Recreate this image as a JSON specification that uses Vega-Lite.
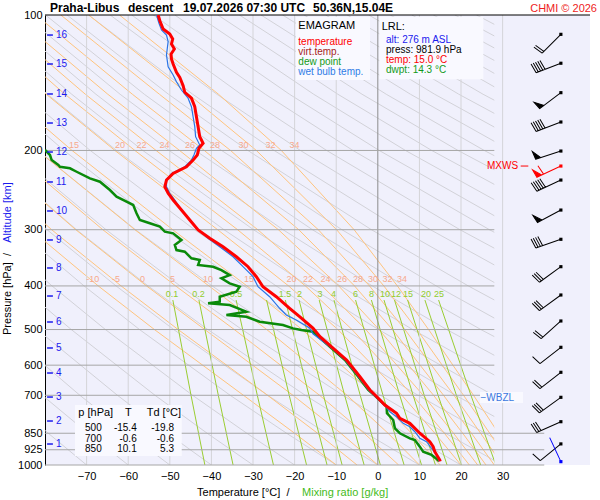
{
  "$schema": "https://vega.github.io/schema/vega-lite/v6.json",
  "width": 545,
  "height": 450,
  "autosize": {"type": "none"},
  "padding": {"left": 45, "top": 15, "right": 10, "bottom": 35},
  "background": "#ffffff",
  "config": {
    "font": "Liberation Sans",
    "text": {"font": "Liberation Sans"},
    "axis": {"labelFont": "Liberation Sans"},
    "view": {"fill": "#f0f0fc", "stroke": null}
  },
  "datasets": {
    "dry": [
      {"id": -70, "p": 1000, "t": -70}, {"id": -70, "p": 850, "t": -79.22}, {"id": -70, "p": 700, "t": -89.7},
      {"id": -60, "p": 1000, "t": -60}, {"id": -60, "p": 850, "t": -69.67}, {"id": -60, "p": 700, "t": -80.65},
      {"id": -50, "p": 1000, "t": -50}, {"id": -50, "p": 850, "t": -60.12}, {"id": -50, "p": 700, "t": -71.62}, {"id": -50, "p": 500, "t": -90.09},
      {"id": -40, "p": 1000, "t": -40}, {"id": -40, "p": 850, "t": -50.58}, {"id": -40, "p": 700, "t": -62.59}, {"id": -40, "p": 500, "t": -81.89},
      {"id": -30, "p": 1000, "t": -30}, {"id": -30, "p": 850, "t": -41.03}, {"id": -30, "p": 700, "t": -53.56}, {"id": -30, "p": 500, "t": -73.69}, {"id": -30, "p": 400, "t": -86.01},
      {"id": -20, "p": 1000, "t": -20}, {"id": -20, "p": 850, "t": -31.49}, {"id": -20, "p": 700, "t": -44.53}, {"id": -20, "p": 500, "t": -65.48}, {"id": -20, "p": 400, "t": -78.31}, {"id": -20, "p": 300, "t": -93.69},
      {"id": -10, "p": 1000, "t": -10}, {"id": -10, "p": 850, "t": -21.94}, {"id": -10, "p": 700, "t": -35.5}, {"id": -10, "p": 500, "t": -57.28}, {"id": -10, "p": 400, "t": -70.61}, {"id": -10, "p": 300, "t": -86.6},
      {"id": 0, "p": 1000, "t": 0}, {"id": 0, "p": 850, "t": -12.39}, {"id": 0, "p": 700, "t": -26.47}, {"id": 0, "p": 500, "t": -49.07}, {"id": 0, "p": 400, "t": -62.92}, {"id": 0, "p": 300, "t": -79.51}, {"id": 0, "p": 200, "t": -100.69},
      {"id": 10, "p": 1000, "t": 10}, {"id": 10, "p": 850, "t": -2.85}, {"id": 10, "p": 700, "t": -17.44}, {"id": 10, "p": 500, "t": -40.87}, {"id": 10, "p": 400, "t": -55.22}, {"id": 10, "p": 300, "t": -72.42}, {"id": 10, "p": 200, "t": -94.37},
      {"id": 20, "p": 1000, "t": 20}, {"id": 20, "p": 850, "t": 6.7}, {"id": 20, "p": 700, "t": -8.4}, {"id": 20, "p": 500, "t": -32.67}, {"id": 20, "p": 400, "t": -47.52}, {"id": 20, "p": 300, "t": -65.33}, {"id": 20, "p": 200, "t": -88.06},
      {"id": 30, "p": 1000, "t": 30}, {"id": 30, "p": 850, "t": 16.24}, {"id": 30, "p": 700, "t": 0.63}, {"id": 30, "p": 500, "t": -24.46}, {"id": 30, "p": 400, "t": -39.83}, {"id": 30, "p": 300, "t": -58.24}, {"id": 30, "p": 200, "t": -81.75},
      {"id": 40, "p": 1000, "t": 40}, {"id": 40, "p": 850, "t": 25.79}, {"id": 40, "p": 700, "t": 9.66}, {"id": 40, "p": 500, "t": -16.26}, {"id": 40, "p": 400, "t": -32.13}, {"id": 40, "p": 300, "t": -51.15}, {"id": 40, "p": 200, "t": -75.43}, {"id": 40, "p": 150, "t": -91.03},
      {"id": 50, "p": 850, "t": 35.34}, {"id": 50, "p": 700, "t": 18.69}, {"id": 50, "p": 500, "t": -8.06}, {"id": 50, "p": 400, "t": -24.43}, {"id": 50, "p": 300, "t": -44.06}, {"id": 50, "p": 200, "t": -69.12}, {"id": 50, "p": 150, "t": -85.21},
      {"id": 60, "p": 850, "t": 44.88}, {"id": 60, "p": 700, "t": 27.72}, {"id": 60, "p": 500, "t": 0.15}, {"id": 60, "p": 400, "t": -16.74}, {"id": 60, "p": 300, "t": -36.97}, {"id": 60, "p": 200, "t": -62.81}, {"id": 60, "p": 150, "t": -79.4}, {"id": 60, "p": 100, "t": -100.59},
      {"id": 70, "p": 700, "t": 36.75}, {"id": 70, "p": 500, "t": 8.35}, {"id": 70, "p": 400, "t": -9.04}, {"id": 70, "p": 300, "t": -29.88}, {"id": 70, "p": 200, "t": -56.49}, {"id": 70, "p": 150, "t": -73.58}, {"id": 70, "p": 100, "t": -95.41},
      {"id": 80, "p": 700, "t": 45.78}, {"id": 80, "p": 500, "t": 16.55}, {"id": 80, "p": 400, "t": -1.34}, {"id": 80, "p": 300, "t": -22.79}, {"id": 80, "p": 200, "t": -50.18}, {"id": 80, "p": 150, "t": -67.76}, {"id": 80, "p": 100, "t": -90.23},
      {"id": 90, "p": 700, "t": 54.81}, {"id": 90, "p": 500, "t": 24.76}, {"id": 90, "p": 400, "t": 6.35}, {"id": 90, "p": 300, "t": -15.71}, {"id": 90, "p": 200, "t": -43.86}, {"id": 90, "p": 150, "t": -61.95}, {"id": 90, "p": 100, "t": -85.06},
      {"id": 100, "p": 500, "t": 32.96}, {"id": 100, "p": 400, "t": 14.05}, {"id": 100, "p": 300, "t": -8.62}, {"id": 100, "p": 200, "t": -37.55}, {"id": 100, "p": 150, "t": -56.13}, {"id": 100, "p": 100, "t": -79.88},
      {"id": 110, "p": 500, "t": 41.16}, {"id": 110, "p": 400, "t": 21.75}, {"id": 110, "p": 300, "t": -1.53}, {"id": 110, "p": 200, "t": -31.24}, {"id": 110, "p": 150, "t": -50.32}, {"id": 110, "p": 100, "t": -74.7},
      {"id": 120, "p": 500, "t": 49.37}, {"id": 120, "p": 400, "t": 29.45}, {"id": 120, "p": 300, "t": 5.56}, {"id": 120, "p": 200, "t": -24.92}, {"id": 120, "p": 150, "t": -44.5}, {"id": 120, "p": 100, "t": -69.52},
      {"id": 130, "p": 400, "t": 37.14}, {"id": 130, "p": 300, "t": 12.65}, {"id": 130, "p": 200, "t": -18.61}, {"id": 130, "p": 150, "t": -38.69}, {"id": 130, "p": 100, "t": -64.34},
      {"id": 140, "p": 400, "t": 44.84}, {"id": 140, "p": 300, "t": 19.74}, {"id": 140, "p": 200, "t": -12.3}, {"id": 140, "p": 150, "t": -32.87}, {"id": 140, "p": 100, "t": -59.16},
      {"id": 150, "p": 400, "t": 52.54}, {"id": 150, "p": 300, "t": 26.83}, {"id": 150, "p": 200, "t": -5.98}, {"id": 150, "p": 150, "t": -27.05}, {"id": 150, "p": 100, "t": -53.98},
      {"id": 160, "p": 300, "t": 33.92}, {"id": 160, "p": 200, "t": 0.33}, {"id": 160, "p": 150, "t": -21.24}, {"id": 160, "p": 100, "t": -48.8},
      {"id": 170, "p": 300, "t": 41.01}, {"id": 170, "p": 200, "t": 6.64}, {"id": 170, "p": 150, "t": -15.42}, {"id": 170, "p": 100, "t": -43.62},
      {"id": 180, "p": 300, "t": 48.1}, {"id": 180, "p": 200, "t": 12.96}, {"id": 180, "p": 150, "t": -9.61}, {"id": 180, "p": 100, "t": -38.44},
      {"id": 190, "p": 300, "t": 55.19}, {"id": 190, "p": 200, "t": 19.27}, {"id": 190, "p": 150, "t": -3.79}, {"id": 190, "p": 100, "t": -33.26},
      {"id": 200, "p": 300, "t": 62.27}, {"id": 200, "p": 200, "t": 25.58}, {"id": 200, "p": 150, "t": 2.02}, {"id": 200, "p": 100, "t": -28.08},
      {"id": 210, "p": 200, "t": 31.9}, {"id": 210, "p": 150, "t": 7.84}, {"id": 210, "p": 100, "t": -22.9},
      {"id": 220, "p": 200, "t": 38.21}, {"id": 220, "p": 150, "t": 13.66}, {"id": 220, "p": 100, "t": -17.72},
      {"id": 230, "p": 200, "t": 44.53}, {"id": 230, "p": 150, "t": 19.47}, {"id": 230, "p": 100, "t": -12.54},
      {"id": 240, "p": 200, "t": 50.84}, {"id": 240, "p": 150, "t": 25.29}, {"id": 240, "p": 100, "t": -7.36},
      {"id": 250, "p": 200, "t": 57.15}, {"id": 250, "p": 150, "t": 31.1}, {"id": 250, "p": 100, "t": -2.18},
      {"id": 260, "p": 150, "t": 36.92}, {"id": 260, "p": 100, "t": 3.0},
      {"id": 270, "p": 150, "t": 42.73}, {"id": 270, "p": 100, "t": 8.17},
      {"id": 280, "p": 150, "t": 48.55}, {"id": 280, "p": 100, "t": 13.35},
      {"id": 290, "p": 150, "t": 54.37}, {"id": 290, "p": 100, "t": 18.53},
      {"id": 300, "p": 150, "t": 60.18}, {"id": 300, "p": 100, "t": 23.71}
    ],
    "moist": [
      {"id": -10, "p": 1000, "t": -10}, {"id": -10, "p": 850, "t": -20.0}, {"id": -10, "p": 700, "t": -32.3}, {"id": -10, "p": 500, "t": -53.7}, {"id": -10, "p": 400, "t": -67.2}, {"id": -10, "p": 300, "t": -83.4},
      {"id": -5, "p": 1000, "t": -5}, {"id": -5, "p": 850, "t": -14.5}, {"id": -5, "p": 700, "t": -26.5}, {"id": -5, "p": 500, "t": -48.0}, {"id": -5, "p": 400, "t": -61.7}, {"id": -5, "p": 300, "t": -78.4}, {"id": -5, "p": 200, "t": -99.7},
      {"id": 0, "p": 1000, "t": 0}, {"id": 0, "p": 850, "t": -8.9}, {"id": 0, "p": 700, "t": -20.4}, {"id": 0, "p": 500, "t": -41.6}, {"id": 0, "p": 400, "t": -55.6}, {"id": 0, "p": 300, "t": -72.6}, {"id": 0, "p": 200, "t": -94.6},
      {"id": 5, "p": 1000, "t": 5}, {"id": 5, "p": 850, "t": -3.3}, {"id": 5, "p": 700, "t": -14.0}, {"id": 5, "p": 500, "t": -34.5}, {"id": 5, "p": 400, "t": -48.6}, {"id": 5, "p": 300, "t": -66.1}, {"id": 5, "p": 200, "t": -88.7},
      {"id": 10, "p": 1000, "t": 10}, {"id": 10, "p": 850, "t": 2.45}, {"id": 10, "p": 700, "t": -7.4}, {"id": 10, "p": 500, "t": -26.7}, {"id": 10, "p": 400, "t": -40.6}, {"id": 10, "p": 300, "t": -58.4}, {"id": 10, "p": 200, "t": -81.8},
      {"id": 15, "p": 1000, "t": 15}, {"id": 15, "p": 850, "t": 8.1}, {"id": 15, "p": 700, "t": -0.75}, {"id": 15, "p": 500, "t": -18.2}, {"id": 15, "p": 400, "t": -31.45}, {"id": 15, "p": 300, "t": -49.3}, {"id": 15, "p": 200, "t": -73.5}, {"id": 15, "p": 150, "t": -89.2},
      {"id": 20, "p": 1000, "t": 20}, {"id": 20, "p": 850, "t": 13.7}, {"id": 20, "p": 700, "t": 5.8}, {"id": 20, "p": 500, "t": -9.6}, {"id": 20, "p": 400, "t": -21.45}, {"id": 20, "p": 300, "t": -38.5}, {"id": 20, "p": 200, "t": -63.2}, {"id": 20, "p": 150, "t": -79.7}, {"id": 20, "p": 100, "t": -100.8},
      {"id": 22, "p": 1000, "t": 22}, {"id": 22, "p": 850, "t": 16.0}, {"id": 22, "p": 700, "t": 8.35}, {"id": 22, "p": 500, "t": -6.2}, {"id": 22, "p": 400, "t": -17.4}, {"id": 22, "p": 300, "t": -33.7}, {"id": 22, "p": 200, "t": -58.4}, {"id": 22, "p": 150, "t": -75.2}, {"id": 22, "p": 100, "t": -96.9},
      {"id": 24, "p": 1000, "t": 24}, {"id": 24, "p": 850, "t": 18.2}, {"id": 24, "p": 700, "t": 10.9}, {"id": 24, "p": 500, "t": -2.9}, {"id": 24, "p": 400, "t": -13.4}, {"id": 24, "p": 300, "t": -28.85}, {"id": 24, "p": 200, "t": -53.3}, {"id": 24, "p": 150, "t": -70.3}, {"id": 24, "p": 100, "t": -92.5},
      {"id": 26, "p": 1000, "t": 26}, {"id": 26, "p": 850, "t": 20.4}, {"id": 26, "p": 700, "t": 13.4}, {"id": 26, "p": 500, "t": 0.3}, {"id": 26, "p": 400, "t": -9.4}, {"id": 26, "p": 300, "t": -23.9}, {"id": 26, "p": 200, "t": -47.65}, {"id": 26, "p": 150, "t": -64.9}, {"id": 26, "p": 100, "t": -87.6},
      {"id": 28, "p": 1000, "t": 28}, {"id": 28, "p": 850, "t": 22.5}, {"id": 28, "p": 700, "t": 15.8}, {"id": 28, "p": 500, "t": 3.5}, {"id": 28, "p": 400, "t": -5.6}, {"id": 28, "p": 300, "t": -19.0}, {"id": 28, "p": 200, "t": -41.7}, {"id": 28, "p": 150, "t": -59.0}, {"id": 28, "p": 100, "t": -82.2},
      {"id": 30, "p": 1000, "t": 30}, {"id": 30, "p": 850, "t": 24.7}, {"id": 30, "p": 700, "t": 18.3}, {"id": 30, "p": 500, "t": 6.5}, {"id": 30, "p": 400, "t": -2.0}, {"id": 30, "p": 300, "t": -14.3}, {"id": 30, "p": 200, "t": -35.4}, {"id": 30, "p": 150, "t": -52.5}, {"id": 30, "p": 100, "t": -76.2},
      {"id": 32, "p": 1000, "t": 32}, {"id": 32, "p": 850, "t": 26.9}, {"id": 32, "p": 700, "t": 20.6}, {"id": 32, "p": 500, "t": 9.4}, {"id": 32, "p": 400, "t": 1.45}, {"id": 32, "p": 300, "t": -9.9}, {"id": 32, "p": 200, "t": -29.2}, {"id": 32, "p": 150, "t": -45.5}, {"id": 32, "p": 100, "t": -69.5},
      {"id": 34, "p": 1000, "t": 34}, {"id": 34, "p": 850, "t": 29.0}, {"id": 34, "p": 700, "t": 23.0}, {"id": 34, "p": 500, "t": 12.2}, {"id": 34, "p": 400, "t": 4.7}, {"id": 34, "p": 300, "t": -5.7}, {"id": 34, "p": 200, "t": -23.2}, {"id": 34, "p": 150, "t": -38.3}, {"id": 34, "p": 100, "t": -62.1}
    ],
    "mix": [
      {"id": 0.1, "p": 1000, "t": -41.57}, {"id": 0.1, "p": 700, "t": -44.9}, {"id": 0.1, "p": 430, "t": -49.27},
      {"id": 0.2, "p": 1000, "t": -34.79}, {"id": 0.2, "p": 700, "t": -38.34}, {"id": 0.2, "p": 430, "t": -43.0},
      {"id": 0.5, "p": 1000, "t": -25.09}, {"id": 0.5, "p": 700, "t": -28.97}, {"id": 0.5, "p": 430, "t": -34.06},
      {"id": 1, "p": 1000, "t": -17.13}, {"id": 1, "p": 700, "t": -21.3}, {"id": 1, "p": 430, "t": -26.75},
      {"id": 1.5, "p": 1000, "t": -12.2}, {"id": 1.5, "p": 700, "t": -16.56}, {"id": 1.5, "p": 430, "t": -22.24},
      {"id": 2, "p": 1000, "t": -8.58}, {"id": 2, "p": 700, "t": -13.07}, {"id": 2, "p": 430, "t": -18.93},
      {"id": 3, "p": 1000, "t": -3.29}, {"id": 3, "p": 700, "t": -7.98}, {"id": 3, "p": 430, "t": -14.09},
      {"id": 4, "p": 1000, "t": 0.61}, {"id": 4, "p": 700, "t": -4.23}, {"id": 4, "p": 430, "t": -10.54},
      {"id": 6, "p": 1000, "t": 6.32}, {"id": 6, "p": 700, "t": 1.25}, {"id": 6, "p": 430, "t": -5.35},
      {"id": 8, "p": 1000, "t": 10.51}, {"id": 8, "p": 700, "t": 5.27}, {"id": 8, "p": 430, "t": -1.54},
      {"id": 10, "p": 1000, "t": 13.85}, {"id": 10, "p": 700, "t": 8.48}, {"id": 10, "p": 430, "t": 1.49},
      {"id": 12, "p": 1000, "t": 16.64}, {"id": 12, "p": 700, "t": 11.15}, {"id": 12, "p": 430, "t": 4.01},
      {"id": 15, "p": 1000, "t": 20.12}, {"id": 15, "p": 700, "t": 14.49}, {"id": 15, "p": 430, "t": 7.16},
      {"id": 20, "p": 1000, "t": 24.72}, {"id": 20, "p": 700, "t": 18.89}, {"id": 20, "p": 430, "t": 11.32},
      {"id": 25, "p": 1000, "t": 28.37}, {"id": 25, "p": 700, "t": 22.38}, {"id": 25, "p": 430, "t": 14.61}
    ],
    "vg": [{"t": -70}, {"t": -60}, {"t": -50}, {"t": -40}, {"t": -30}, {"t": -20}, {"t": -10}, {"t": 10}, {"t": 20}, {"t": 30}],
    "hl": [
      {"p": 200, "t": -80, "t2": 28}, {"p": 300, "t": -80, "t2": 28}, {"p": 400, "t": -80, "t2": 28},
      {"p": 500, "t": -80, "t2": 28}, {"p": 600, "t": -80, "t2": 28}, {"p": 700, "t": -80, "t2": 28},
      {"p": 850, "t": -80, "t2": 40}, {"p": 925, "t": -80, "t2": 40}, {"p": 1000, "t": -80, "t2": 40}
    ],
    "boxes": [
      {"t": -19.67, "t2": -1.88, "p": 101.0, "p2": 139.5},
      {"t": 0.36, "t2": 25.36, "p": 100.9, "p2": 138.9},
      {"t": -72.79, "t2": -47.14, "p": 735.6, "p2": 955.0},
      {"t": 24.56, "t2": 34.9, "p": 688.1, "p2": 728.1}
    ],
    "plab": [
      {"s": "-10", "t": -68.53, "p": 386.1}, {"s": "-5", "t": -62.93, "p": 386.1}, {"s": "0", "t": -56.56, "p": 386.1},
      {"s": "5", "t": -49.35, "p": 386.1}, {"s": "10", "t": -40.82, "p": 386.1}, {"s": "15", "t": -30.97, "p": 386.1},
      {"s": "20", "t": -20.75, "p": 386.1}, {"s": "22", "t": -16.78, "p": 386.1}, {"s": "24", "t": -12.58, "p": 386.1},
      {"s": "26", "t": -8.61, "p": 386.1}, {"s": "28", "t": -4.77, "p": 386.1}, {"s": "30", "t": -1.16, "p": 386.1},
      {"s": "32", "t": 2.33, "p": 386.1}, {"s": "34", "t": 5.81, "p": 386.1},
      {"s": "15", "t": -73.03, "p": 194.5}, {"s": "20", "t": -61.97, "p": 194.5}, {"s": "22", "t": -56.8, "p": 194.5},
      {"s": "24", "t": -51.28, "p": 194.5}, {"s": "26", "t": -45.15, "p": 194.5}, {"s": "28", "t": -39.14, "p": 194.5},
      {"s": "30", "t": -32.29, "p": 194.5}, {"s": "32", "t": -25.8, "p": 194.5}, {"s": "34", "t": -20.03, "p": 194.5}
    ],
    "mlab": [
      {"s": "0.1", "t": -49.47, "p": 417.9}, {"s": "0.2", "t": -43.1, "p": 417.9}, {"s": "0.5", "t": -34.09, "p": 417.9},
      {"s": "1.5", "t": -22.31, "p": 417.9}, {"s": "2", "t": -18.83, "p": 417.9}, {"s": "3", "t": -13.9, "p": 417.9},
      {"s": "4", "t": -10.65, "p": 417.9}, {"s": "6", "t": -5.37, "p": 417.9}, {"s": "8", "t": -1.52, "p": 417.9},
      {"s": "10", "t": 1.72, "p": 417.9}, {"s": "12", "t": 4.37, "p": 417.9}, {"s": "15", "t": 7.25, "p": 417.9},
      {"s": "20", "t": 11.58, "p": 417.9}, {"s": "25", "t": 14.7, "p": 417.9}
    ],
    "tt": [
      {"p": 100, "t": -52.8}, {"p": 103.0, "t": -52.4}, {"p": 107.4, "t": -51.6}, {"p": 110.2, "t": -50.0},
      {"p": 113.1, "t": -49.3}, {"p": 116.0, "t": -49.6}, {"p": 119.0, "t": -48.9}, {"p": 122.1, "t": -49.7},
      {"p": 125.2, "t": -49.6}, {"p": 128.5, "t": -49.2}, {"p": 134.1, "t": -48.4}, {"p": 137.6, "t": -47.6},
      {"p": 143.6, "t": -46.8}, {"p": 148.5, "t": -46.4}, {"p": 153.1, "t": -44.8}, {"p": 159.9, "t": -44.0},
      {"p": 168.3, "t": -43.6}, {"p": 177.1, "t": -43.2}, {"p": 186.4, "t": -42.8}, {"p": 192.8, "t": -42.0},
      {"p": 197.8, "t": -43.0}, {"p": 204.7, "t": -43.4}, {"p": 210.1, "t": -44.4}, {"p": 217.4, "t": -46.0},
      {"p": 224.9, "t": -49.2}, {"p": 232.7, "t": -50.8}, {"p": 240.8, "t": -51.2}, {"p": 249.0, "t": -50.4},
      {"p": 257.7, "t": -49.2}, {"p": 271.2, "t": -47.2}, {"p": 285.4, "t": -45.2}, {"p": 300.4, "t": -43.2},
      {"p": 313.5, "t": -40.4}, {"p": 327.3, "t": -37.2}, {"p": 344.5, "t": -34.0}, {"p": 362.5, "t": -31.2},
      {"p": 381.5, "t": -29.2}, {"p": 401.6, "t": -27.6}, {"p": 422.7, "t": -24.4}, {"p": 448.5, "t": -21.2},
      {"p": 468.2, "t": -18.8}, {"p": 496.1, "t": -15.6}, {"p": 518.6, "t": -13.9}, {"p": 550.4, "t": -10.7},
      {"p": 584.5, "t": -7.5}, {"p": 636.7, "t": -4.3}, {"p": 681.3, "t": -1.9}, {"p": 700, "t": -0.6},
      {"p": 735.6, "t": 1.7}, {"p": 767.6, "t": 4.5}, {"p": 787.5, "t": 5.3}, {"p": 808, "t": 7.7},
      {"p": 850, "t": 10.1}, {"p": 887.7, "t": 12.5}, {"p": 910.5, "t": 13.3}, {"p": 934, "t": 13.7},
      {"p": 974.8, "t": 14.9}, {"p": 981.9, "t": 15.0}
    ],
    "tw": [
      {"p": 100, "t": -53.2}, {"p": 104.3, "t": -52.6}, {"p": 108.0, "t": -52.0}, {"p": 110.8, "t": -50.8},
      {"p": 114.6, "t": -50.4}, {"p": 122.7, "t": -50.8}, {"p": 130.3, "t": -50.4}, {"p": 135.9, "t": -49.2},
      {"p": 140.7, "t": -48.4}, {"p": 146.8, "t": -47.2}, {"p": 153.1, "t": -45.6}, {"p": 159.9, "t": -44.8},
      {"p": 168.3, "t": -44.4}, {"p": 177.1, "t": -44.0}, {"p": 186.4, "t": -43.8}, {"p": 194.5, "t": -42.8},
      {"p": 197.8, "t": -43.6}, {"p": 204.7, "t": -44.2}, {"p": 210.1, "t": -44.8}, {"p": 217.4, "t": -46.4},
      {"p": 224.9, "t": -49.6}, {"p": 232.7, "t": -50.8}, {"p": 240.8, "t": -50.8}, {"p": 249.0, "t": -50.0},
      {"p": 257.7, "t": -48.8}, {"p": 271.2, "t": -47.2}, {"p": 285.4, "t": -45.2}, {"p": 300.4, "t": -43.2},
      {"p": 313.5, "t": -40.8}, {"p": 327.3, "t": -38.0}, {"p": 344.5, "t": -34.8}, {"p": 362.5, "t": -32.4},
      {"p": 381.5, "t": -30.0}, {"p": 401.6, "t": -28.8}, {"p": 422.7, "t": -26.0}, {"p": 448.5, "t": -23.6},
      {"p": 464.2, "t": -22.0}, {"p": 476.1, "t": -19.6}, {"p": 496.1, "t": -16.4}, {"p": 510.9, "t": -15.6},
      {"p": 550.4, "t": -11.0}, {"p": 584.5, "t": -7.8}, {"p": 636.7, "t": -4.6}, {"p": 681.3, "t": -2.2},
      {"p": 700, "t": -0.9}, {"p": 735.6, "t": 1.6}, {"p": 761.4, "t": 2.9}, {"p": 781.1, "t": 4.5},
      {"p": 808.0, "t": 6.1}, {"p": 822.2, "t": 7.7}, {"p": 843.5, "t": 8.9}, {"p": 872.4, "t": 10.1},
      {"p": 887.7, "t": 11.7}, {"p": 917.9, "t": 12.9}, {"p": 949.9, "t": 14.1}, {"p": 974.8, "t": 14.7},
      {"p": 981.9, "t": 14.6}
    ],
    "td": [
      {"p": 199.5, "t": -80.0}, {"p": 204.7, "t": -78.8}, {"p": 210.1, "t": -78.4}, {"p": 215.4, "t": -76.8},
      {"p": 217.4, "t": -76.4}, {"p": 219.1, "t": -74.0}, {"p": 223.0, "t": -72.4}, {"p": 230.7, "t": -69.2},
      {"p": 234.7, "t": -66.8}, {"p": 244.9, "t": -64.4}, {"p": 253.4, "t": -62.8}, {"p": 260.0, "t": -60.4},
      {"p": 264.4, "t": -58.8}, {"p": 275.9, "t": -58.0}, {"p": 285.4, "t": -57.2}, {"p": 290.3, "t": -54.8},
      {"p": 295.4, "t": -52.4}, {"p": 303.1, "t": -51.2}, {"p": 305.6, "t": -49.2}, {"p": 316.2, "t": -47.2},
      {"p": 324.4, "t": -48.8}, {"p": 332.9, "t": -48.4}, {"p": 335.7, "t": -46.4}, {"p": 347.3, "t": -44.8},
      {"p": 350.4, "t": -42.8}, {"p": 359.4, "t": -43.2}, {"p": 362.6, "t": -39.6}, {"p": 368.8, "t": -37.6},
      {"p": 378.4, "t": -35.6}, {"p": 384.8, "t": -37.6}, {"p": 394.8, "t": -35.6}, {"p": 401.7, "t": -33.2},
      {"p": 412.1, "t": -34.0}, {"p": 422.7, "t": -38.0}, {"p": 433.6, "t": -38.0}, {"p": 437.2, "t": -40.8},
      {"p": 441.0, "t": -35.6}, {"p": 456.4, "t": -31.6}, {"p": 464.2, "t": -36.4}, {"p": 468.3, "t": -31.6},
      {"p": 480.4, "t": -28.4}, {"p": 488.6, "t": -22.8}, {"p": 497.0, "t": -20.4}, {"p": 501.2, "t": -18.4},
      {"p": 505.6, "t": -15.6}, {"p": 518.6, "t": -14.3}, {"p": 550.4, "t": -11.1}, {"p": 584.5, "t": -7.9},
      {"p": 636.7, "t": -4.7}, {"p": 681.3, "t": -2.3}, {"p": 700, "t": -0.8}, {"p": 742.0, "t": 2.1},
      {"p": 767.6, "t": 2.2}, {"p": 794.3, "t": 3.7}, {"p": 829.0, "t": 4.1}, {"p": 850, "t": 5.3},
      {"p": 872.4, "t": 7.7}, {"p": 880.0, "t": 8.9}, {"p": 910.5, "t": 10.1}, {"p": 934.1, "t": 10.9},
      {"p": 949.9, "t": 12.9}, {"p": 974.8, "t": 14.5}, {"p": 981.9, "t": 14.3}
    ],
    "alt": [
      {"h": "1", "p": 898.2}, {"h": "2", "p": 798.5}, {"h": "3", "p": 706.3}, {"h": "4", "p": 624.6},
      {"h": "5", "p": 549.5}, {"h": "6", "p": 481.1}, {"h": "7", "p": 421.2}, {"h": "8", "p": 364.9},
      {"h": "9", "p": 316.2}, {"h": "10", "p": 272.6}, {"h": "11", "p": 235.0}, {"h": "12", "p": 201.6},
      {"h": "13", "p": 173.8}, {"h": "14", "p": 149.8}, {"h": "15", "p": 128.5}, {"h": "16", "p": 110.8}
    ],
    "wind": [
      {"p": 110.4, "dir": 225, "n": "2", "k": "w"}, {"p": 128.0, "dir": 249, "n": "5", "k": "w"},
      {"p": 148.8, "dir": 233, "n": "P", "k": "w"}, {"p": 172.9, "dir": 249, "n": "5", "k": "w"},
      {"p": 200.6, "dir": 252, "n": "P", "k": "w"}, {"p": 216.6, "dir": 245, "n": "P1", "k": "mx"},
      {"p": 232.7, "dir": 245, "n": "5", "k": "w"}, {"p": 271.3, "dir": 242, "n": "P", "k": "w"},
      {"p": 315.1, "dir": 251, "n": "4", "k": "w"}, {"p": 362.5, "dir": 234, "n": "3", "k": "w"},
      {"p": 419.0, "dir": 234, "n": "3", "k": "w"}, {"p": 478.6, "dir": 228, "n": "2", "k": "w"},
      {"p": 547.6, "dir": 232, "n": "1", "k": "w"}, {"p": 622.3, "dir": 232, "n": "2", "k": "w"},
      {"p": 707.3, "dir": 234, "n": "3", "k": "w"}, {"p": 801.3, "dir": 246, "n": "3", "k": "w"},
      {"p": 897.7, "dir": 231, "n": "1", "k": "w"}, {"p": 983.0, "dir": 335, "n": "0", "k": "sfc"}
    ],
    "t10": [
      {"s": "temperature", "t": -19.11, "p": 114.8, "r": "temp"},
      {"s": "virt.temp.", "t": -19.11, "p": 120.6, "r": "virt"},
      {"s": "dew point", "t": -19.11, "p": 127.0, "r": "dew"},
      {"s": "wet bulb temp.", "t": -19.11, "p": 133.7, "r": "wet"},
      {"s": "alt: 276 m ASL", "t": 1.97, "p": 113.6, "r": "alt"},
      {"s": "press: 981.9 hPa", "t": 1.97, "p": 119.6, "r": "k"},
      {"s": "temp: 15.0 °C", "t": 1.97, "p": 125.9, "r": "temp"},
      {"s": "dwpt: 14.3 °C", "t": 1.97, "p": 132.5, "r": "dew"},
      {"s": "MXWS", "t": 26.24, "p": 216.6, "r": "temp"},
      {"s": "−WBZL", "t": 24.68, "p": 710.6, "r": "wbzl"}
    ],
    "t11": [
      {"s": "EMAGRAM", "t": -19.11, "p": 105.8, "r": "k"},
      {"s": "LRL:", "t": 0.93, "p": 106.5, "r": "k"},
      {"s": "p [hPa]", "t": -72.0, "p": 767.6, "r": "k"},
      {"s": "T", "t": -60.77, "p": 767.6, "r": "k"},
      {"s": "Td [°C]", "t": -55.56, "p": 767.6, "r": "k"},
      {"s": "Temperature [°C]\u00a0 /", "t": -43.46, "p": 1153.9, "r": "k"},
      {"s": "Mixing ratio [g/kg]", "t": -18.22, "p": 1153.9, "r": "mixt"}
    ],
    "tab": [
      {"s": "500", "t": -66.37, "p": 829.0}, {"s": "-15.4", "t": -57.96, "p": 829.0}, {"s": "-19.8", "t": -48.99, "p": 829.0},
      {"s": "700", "t": -66.37, "p": 873.8}, {"s": "-0.6", "t": -57.96, "p": 873.8}, {"s": "-0.6", "t": -48.99, "p": 873.8},
      {"s": "850", "t": -66.37, "p": 920.7}, {"s": "10.1", "t": -57.96, "p": 920.7}, {"s": "5.3", "t": -48.99, "p": 920.7}
    ],
    "head": [
      {"s": "Praha-Libus", "t": -78.8, "p": 98.3},
      {"s": "descent", "t": -60.05, "p": 98.3},
      {"s": "19.07.2026 07:30 UTC", "t": -46.83, "p": 98.3},
      {"s": "50.36N,15.04E", "t": -15.58, "p": 98.3}
    ],
    "ytitle": [
      {"s": "Altitude [km]", "t": -89.01, "p": 274.8, "r": "alt"},
      {"s": "Pressure [hPa]\u00a0 /", "t": -89.01, "p": 416.9, "r": "k"}
    ]
  },
  "layer": [
    {
      "data": {"name": "dry"},
      "mark": {"type": "line", "color": "#d2d2d8", "strokeWidth": 1, "clip": true},
      "encoding": {
        "x": {"field": "t", "type": "quantitative",
          "scale": {"domain": [-80, 51], "nice": false, "zero": false},
          "axis": {"values": [-70, -60, -50, -40, -30, -20, -10, 0, 10, 20, 30], "format": "d", "domain": false, "ticks": false, "tickSize": 0, "grid": false, "labelFontSize": 11, "labelPadding": 5, "labelColor": "#000000", "title": null}},
        "y": {"field": "p", "type": "quantitative",
          "scale": {"type": "log", "domain": [100, 1000], "reverse": true, "nice": false},
          "axis": {"values": [100, 200, 300, 400, 500, 600, 700, 850, 925, 1000], "format": "d", "domain": true, "domainColor": "#000000", "domainWidth": 1, "ticks": false, "tickSize": 0, "grid": false, "labelFontSize": 11, "labelPadding": 3, "labelColor": "#000000", "title": null}},
        "detail": {"field": "id", "type": "nominal"},
        "order": {"field": "p", "type": "quantitative"}
      }
    },
    {
      "data": {"name": "moist"},
      "mark": {"type": "line", "color": "#ffc47e", "strokeWidth": 1, "clip": true},
      "encoding": {
        "x": {"field": "t", "type": "quantitative"},
        "y": {"field": "p", "type": "quantitative"},
        "detail": {"field": "id", "type": "nominal"},
        "order": {"field": "p", "type": "quantitative"}
      }
    },
    {
      "data": {"name": "mix"},
      "mark": {"type": "line", "color": "#9acd32", "strokeWidth": 1, "clip": true},
      "encoding": {
        "x": {"field": "t", "type": "quantitative"},
        "y": {"field": "p", "type": "quantitative"},
        "detail": {"field": "id", "type": "nominal"},
        "order": {"field": "p", "type": "quantitative"}
      }
    },
    {
      "data": {"values": [{}]},
      "mark": {"type": "rect", "color": "#f0f0fc"},
      "encoding": {
        "x": {"datum": 28}, "x2": {"datum": 51},
        "y": {"datum": 100}, "y2": {"datum": 1000}
      }
    },
    {
      "data": {"name": "vg"},
      "mark": {"type": "rule", "color": "#d4d4d8", "strokeWidth": 1},
      "encoding": {"x": {"field": "t", "type": "quantitative"}}
    },
    {
      "data": {"values": [{}]},
      "mark": {"type": "rule", "color": "#8c8c8c", "strokeWidth": 1},
      "encoding": {"x": {"datum": 0}}
    },
    {
      "data": {"name": "hl"},
      "mark": {"type": "rule", "color": "#a6a6a6", "strokeWidth": 1},
      "encoding": {
        "y": {"field": "p", "type": "quantitative"},
        "x": {"field": "t", "type": "quantitative"},
        "x2": {"field": "t2"}
      }
    },
    {
      "data": {"values": [{}]},
      "mark": {"type": "rule", "color": "#000000", "strokeWidth": 1},
      "encoding": {"y": {"datum": 100}, "x": {"datum": -80}, "x2": {"datum": 51}}
    },
    {
      "data": {"name": "boxes"},
      "mark": {"type": "rect", "color": "#f9f9ff"},
      "encoding": {
        "x": {"field": "t", "type": "quantitative"}, "x2": {"field": "t2"},
        "y": {"field": "p", "type": "quantitative"}, "y2": {"field": "p2"}
      }
    },
    {
      "data": {"name": "plab"},
      "mark": {"type": "text", "fontSize": 9, "color": "#f7a98c", "align": "center", "baseline": "middle"},
      "encoding": {
        "x": {"field": "t", "type": "quantitative"},
        "y": {"field": "p", "type": "quantitative"},
        "text": {"field": "s"}
      }
    },
    {
      "data": {"name": "mlab"},
      "mark": {"type": "text", "fontSize": 9, "color": "#92cc2c", "align": "center", "baseline": "middle"},
      "encoding": {
        "x": {"field": "t", "type": "quantitative"},
        "y": {"field": "p", "type": "quantitative"},
        "text": {"field": "s"}
      }
    },
    {
      "data": {"name": "td"},
      "mark": {"type": "line", "color": "#0a8a0a", "strokeWidth": 2.5, "clip": true},
      "encoding": {
        "x": {"field": "t", "type": "quantitative"},
        "y": {"field": "p", "type": "quantitative"},
        "order": {"field": "p", "type": "quantitative"}
      }
    },
    {
      "data": {"name": "tw"},
      "mark": {"type": "line", "color": "#2a74e6", "strokeWidth": 1.2, "clip": true},
      "encoding": {
        "x": {"field": "t", "type": "quantitative"},
        "y": {"field": "p", "type": "quantitative"},
        "order": {"field": "p", "type": "quantitative"}
      }
    },
    {
      "data": {"name": "tt"},
      "mark": {"type": "line", "color": "#ff0000", "strokeWidth": 3, "clip": true},
      "encoding": {
        "x": {"field": "t", "type": "quantitative"},
        "y": {"field": "p", "type": "quantitative"},
        "order": {"field": "p", "type": "quantitative"}
      }
    },
    {
      "data": {"name": "alt"},
      "mark": {"type": "rule", "color": "#1a1aee", "strokeWidth": 1.5},
      "encoding": {
        "x": {"datum": -79.5}, "x2": {"datum": -78.1},
        "y": {"field": "p", "type": "quantitative"}
      }
    },
    {
      "data": {"name": "alt"},
      "mark": {"type": "text", "align": "left", "baseline": "middle", "fontSize": 10, "color": "#1a1aee"},
      "encoding": {
        "x": {"datum": -77.36},
        "y": {"field": "p", "type": "quantitative"},
        "text": {"field": "h"}
      }
    },
    {
      "data": {"name": "wind"},
      "mark": {"type": "point", "filled": true, "opacity": 1, "strokeWidth": 1},
      "encoding": {
        "x": {"datum": 44},
        "y": {"field": "p", "type": "quantitative"},
        "shape": {"field": "n", "type": "nominal", "legend": null,
          "scale": {
            "domain": ["0", "1", "2", "3", "4", "5", "P", "P1"],
            "range": [
              "M0,0L0,-1",
              "M0,0L0,-1M0,-1L0.38,-1.06",
              "M0,0L0,-1M0,-1L0.38,-1.06M0,-0.91L0.38,-0.97",
              "M0,0L0,-1M0,-1L0.38,-1.06M0,-0.91L0.38,-0.97M0,-0.82L0.38,-0.88",
              "M0,0L0,-1M0,-1L0.38,-1.06M0,-0.91L0.38,-0.97M0,-0.82L0.38,-0.88M0,-0.73L0.38,-0.79",
              "M0,0L0,-1M0,-1L0.38,-1.06M0,-0.91L0.38,-0.97M0,-0.82L0.38,-0.88M0,-0.73L0.38,-0.79M0,-0.64L0.38,-0.7",
              "M0,0L0,-1M0,-1L0.32,-1.03L0,-0.8Z",
              "M0,0L0,-1M0,-1L0.32,-1.03L0,-0.8ZM0,-0.72L0.38,-0.78"
            ]
          }},
        "angle": {"field": "dir", "type": "quantitative", "scale": null},
        "size": {"value": 2809},
        "fill": {"field": "k", "type": "nominal", "legend": null, "scale": {"domain": ["w", "mx", "sfc"], "range": ["#000000", "#ff0000", "#0000ff"]}},
        "stroke": {"field": "k", "type": "nominal", "legend": null, "scale": {"domain": ["w", "mx", "sfc"], "range": ["#000000", "#ff0000", "#0000ff"]}}
      }
    },
    {
      "data": {"name": "wind"},
      "mark": {"type": "point", "filled": true, "opacity": 1, "shape": "square"},
      "encoding": {
        "x": {"datum": 44},
        "y": {"field": "p", "type": "quantitative"},
        "size": {"value": 10},
        "fill": {"field": "k", "type": "nominal", "legend": null, "scale": {"domain": ["w", "mx", "sfc"], "range": ["#000000", "#ff0000", "#0000ff"]}}
      }
    },
    {
      "data": {"values": [{}]},
      "mark": {"type": "rule", "color": "#ff0000", "strokeWidth": 1},
      "encoding": {"x": {"datum": 34.34}, "x2": {"datum": 36.17}, "y": {"datum": 216.6}}
    },
    {
      "data": {"name": "t10"},
      "mark": {"type": "text", "align": "left", "baseline": "middle", "fontSize": 10},
      "encoding": {
        "x": {"field": "t", "type": "quantitative"},
        "y": {"field": "p", "type": "quantitative"},
        "text": {"field": "s"},
        "color": {"field": "r", "type": "nominal", "legend": null,
          "scale": {"domain": ["k", "temp", "virt", "dew", "wet", "alt", "mixt", "wbzl"],
                    "range": ["#000000", "#ff0000", "#a51d1d", "#119a19", "#2f7ce6", "#1a1aee", "#45bb22", "#3a78e0"]}}
      }
    },
    {
      "data": {"name": "t11"},
      "mark": {"type": "text", "align": "left", "baseline": "middle", "fontSize": 11},
      "encoding": {
        "x": {"field": "t", "type": "quantitative"},
        "y": {"field": "p", "type": "quantitative"},
        "text": {"field": "s"},
        "color": {"field": "r", "type": "nominal", "legend": null,
          "scale": {"domain": ["k", "temp", "virt", "dew", "wet", "alt", "mixt", "wbzl"],
                    "range": ["#000000", "#ff0000", "#a51d1d", "#119a19", "#2f7ce6", "#1a1aee", "#45bb22", "#3a78e0"]}}
      }
    },
    {
      "data": {"name": "tab"},
      "mark": {"type": "text", "align": "right", "baseline": "middle", "fontSize": 10, "color": "#000000"},
      "encoding": {
        "x": {"field": "t", "type": "quantitative"},
        "y": {"field": "p", "type": "quantitative"},
        "text": {"field": "s"}
      }
    },
    {
      "data": {"name": "head"},
      "mark": {"type": "text", "align": "left", "baseline": "alphabetic", "fontSize": 12, "fontWeight": "bold", "color": "#000000"},
      "encoding": {
        "x": {"field": "t", "type": "quantitative"},
        "y": {"field": "p", "type": "quantitative"},
        "text": {"field": "s"}
      }
    },
    {
      "data": {"values": [{"s": "CHMI © 2026", "t": 52.68, "p": 98.3}]},
      "mark": {"type": "text", "align": "right", "baseline": "alphabetic", "fontSize": 11, "color": "#ee1c1c"},
      "encoding": {
        "x": {"field": "t", "type": "quantitative"},
        "y": {"field": "p", "type": "quantitative"},
        "text": {"field": "s"}
      }
    },
    {
      "data": {"name": "ytitle"},
      "mark": {"type": "text", "angle": 270, "align": "center", "baseline": "middle", "fontSize": 11},
      "encoding": {
        "x": {"field": "t", "type": "quantitative"},
        "y": {"field": "p", "type": "quantitative"},
        "text": {"field": "s"},
        "color": {"field": "r", "type": "nominal", "legend": null,
          "scale": {"domain": ["k", "temp", "virt", "dew", "wet", "alt", "mixt", "wbzl"],
                    "range": ["#000000", "#ff0000", "#a51d1d", "#119a19", "#2f7ce6", "#1a1aee", "#45bb22", "#3a78e0"]}}
      }
    }
  ]
}
